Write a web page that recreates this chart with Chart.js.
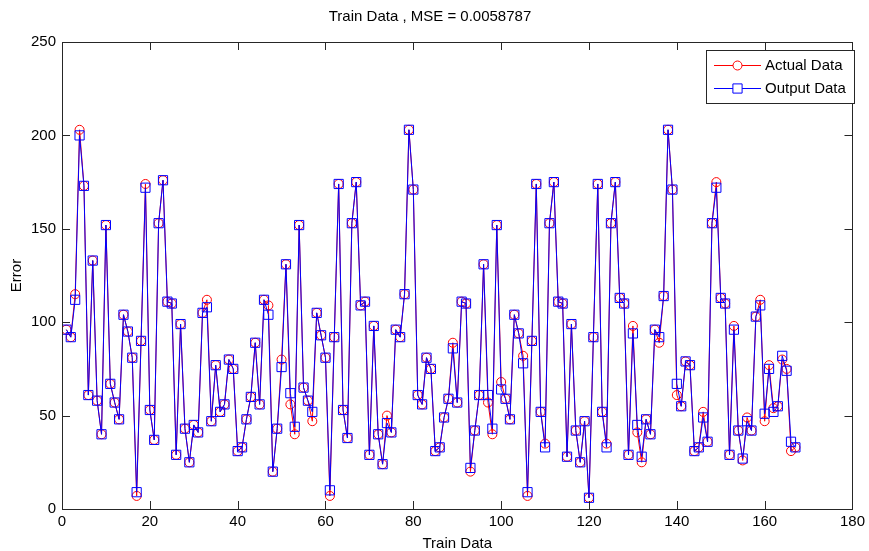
<!DOCTYPE html>
<html>
<head>
<meta charset="utf-8">
<script src="https://cdn.jsdelivr.net/npm/chart.js@4.4.0/dist/chart.umd.min.js"></script>
<style>
  html, body { margin: 0; padding: 0; background: #fff; }
  #wrap { width: 869px; height: 551px; }
</style>
</head>
<body>
<div id="wrap"><canvas id="myChart" width="869" height="551"></canvas></div>
<script>
var actual_data = [
  96, 92, 115, 203, 173, 61, 133, 58, 40, 152,
  67, 57, 48, 104, 95, 81, 7, 90, 174, 53,
  37, 153, 176, 111, 110, 29, 99, 43, 25, 45,
  41, 105, 112, 47, 77, 52, 56, 80, 75, 31,
  33, 48, 60, 89, 56, 112, 109, 20, 43, 80,
  131, 56, 40, 152, 65, 58, 47, 105, 93, 81,
  7, 92, 174, 53, 38, 153, 175, 109, 111, 29,
  98, 40, 24, 50, 41, 96, 92, 115, 203, 171,
  61, 56, 81, 75, 31, 33, 49, 59, 89, 57,
  111, 110, 20, 42, 61, 131, 57, 40, 152, 68,
  59, 48, 104, 94, 82, 7, 90, 174, 52, 35,
  153, 175, 111, 110, 28, 99, 42, 25, 47, 6,
  92, 174, 52, 35, 153, 175, 113, 110, 29, 98,
  41, 25, 48, 40, 96, 89, 114, 203, 171, 61,
  55, 79, 77, 31, 33, 52, 36, 153, 175, 113,
  110, 29, 98, 42, 26, 49, 42, 103, 112, 47,
  77, 54, 55, 80, 75, 31, 33
];
var output_data = [
  96, 92, 112, 200, 173, 61, 133, 58, 40, 152,
  67, 57, 48, 104, 95, 81, 9, 90, 172, 53,
  37, 153, 176, 111, 110, 29, 99, 43, 25, 45,
  41, 105, 108, 47, 77, 52, 56, 80, 75, 31,
  33, 48, 60, 89, 56, 112, 104, 20, 43, 76,
  131, 62, 44, 152, 65, 58, 52, 105, 93, 81,
  10, 92, 174, 53, 38, 153, 175, 109, 111, 29,
  98, 40, 24, 46, 41, 96, 92, 115, 203, 171,
  61, 56, 81, 75, 31, 33, 49, 59, 86, 57,
  111, 110, 22, 42, 61, 131, 61, 43, 152, 64,
  59, 48, 104, 94, 78, 9, 90, 174, 52, 33,
  153, 175, 111, 110, 28, 99, 42, 25, 47, 6,
  92, 174, 52, 33, 153, 175, 113, 110, 29, 94,
  45, 28, 48, 40, 96, 92, 114, 203, 171, 67,
  55, 79, 77, 31, 33, 49, 36, 153, 172, 113,
  110, 29, 96, 42, 27, 47, 42, 103, 109, 51,
  75, 52, 55, 82, 74, 36, 33
];
var x_ticks = [0, 20, 40, 60, 80, 100, 120, 140, 160, 180];
var y_ticks = [0, 50, 100, 150, 200, 250];

var FONT = "'Liberation Sans', Arial, sans-serif";
var FSIZE = 15;

function to_points(list) {
  var pts = [];
  for(var i = 0; i < list.length; i++) {
    pts.push({x: i + 1, y: list[i]});
  }
  return pts;
}

// matlab style box, inward ticks and legend
var matlab_axes = {
  id: 'matlab_axes',
  afterDatasetsDraw: function(chart) {
    var ctx = chart.ctx;
    var a = chart.chartArea;
    var xs = chart.scales.x;
    var ys = chart.scales.y;
    var len = 8;
    ctx.save();
    ctx.strokeStyle = '#262626';
    ctx.lineWidth = 1;
    ctx.beginPath();
    for(const v of x_ticks) {
      var px = Math.round(xs.getPixelForValue(v)) + 0.5;
      ctx.moveTo(px, a.bottom); ctx.lineTo(px, a.bottom - len);
      ctx.moveTo(px, a.top); ctx.lineTo(px, a.top + len);
    }
    for(const v of y_ticks) {
      var py = Math.round(ys.getPixelForValue(v)) + 0.5;
      ctx.moveTo(a.left, py); ctx.lineTo(a.left + len, py);
      ctx.moveTo(a.right, py); ctx.lineTo(a.right - len, py);
    }
    ctx.stroke();
    ctx.strokeRect(Math.round(a.left) + 0.5, Math.round(a.top) + 0.5,
                   Math.round(a.right - a.left), Math.round(a.bottom - a.top));

    // legend
    var bx = 706.5, by = 50.5, bw = 148, bh = 53;
    ctx.fillStyle = '#fff';
    ctx.fillRect(bx, by, bw, bh);
    ctx.strokeStyle = '#262626';
    ctx.strokeRect(bx, by, bw, bh);
    var rows = [65, 88];
    ctx.font = FSIZE + 'px ' + FONT;
    ctx.textBaseline = 'middle';
    ctx.textAlign = 'left';
    chart.data.datasets.forEach(function(ds, i) {
      var y = rows[i] + 0.5;
      ctx.strokeStyle = ds.borderColor;
      ctx.lineWidth = 1;
      ctx.beginPath();
      ctx.moveTo(714, y); ctx.lineTo(761, y);
      ctx.stroke();
      ctx.fillStyle = '#fff';
      Chart.helpers.drawPoint(ctx, {pointStyle: ds.pointStyle, radius: ds.pointRadius, borderWidth: 1}, 737.5, y);
      ctx.fillStyle = '#000';
      ctx.fillText(ds.label, 765, rows[i] + 1);
    });
    ctx.restore();
  }
};

const config = {
  type: 'line',
  data: {
    datasets: [{
      label: 'Actual Data',
      data: to_points(actual_data),
      borderColor: 'rgb(255, 0, 0)',
      backgroundColor: 'rgba(0, 0, 0, 0)',
      borderWidth: 1,
      pointStyle: 'circle',
      pointRadius: 4.5,
      pointBorderWidth: 1,
      pointBorderColor: 'rgb(255, 0, 0)',
      pointBackgroundColor: 'rgba(0, 0, 0, 0)',
      tension: 0,
      order: 2
    }, {
      label: 'Output Data',
      data: to_points(output_data),
      borderColor: 'rgb(0, 0, 255)',
      backgroundColor: 'rgba(0, 0, 0, 0)',
      borderWidth: 1,
      pointStyle: 'rect',
      pointRadius: 6.5,
      pointBorderWidth: 1,
      pointBorderColor: 'rgb(0, 0, 255)',
      pointBackgroundColor: 'rgba(0, 0, 0, 0)',
      tension: 0,
      order: 1
    }]
  },
  options: {
    responsive: false,
    animation: false,
    layout: {padding: {left: 0, right: 9, top: 0, bottom: 0}},
    plugins: {
      legend: {display: false},
      tooltip: {enabled: false},
      title: {
        display: true,
        text: 'Train Data , MSE = 0.0058787',
        color: '#000',
        font: {family: FONT, size: FSIZE, weight: 'normal'},
        padding: {top: 8, bottom: 16}
      }
    },
    scales: {
      x: {
        type: 'linear',
        min: 0, max: 180,
        afterFit: function(s) { s.height = 42; },
        afterBuildTicks: function(s) { s.ticks = x_ticks.map(v => ({value: v})); },
        grid: {display: false, drawTicks: false},
        border: {display: false},
        ticks: {color: '#000', padding: 4, maxRotation: 0, font: {family: FONT, size: FSIZE}},
        title: {display: true, text: 'Train Data', color: '#000', padding: 0,
                font: {family: FONT, size: FSIZE, lineHeight: 1}}
      },
      y: {
        min: 0, max: 250,
        afterFit: function(s) { s.width = 62; },
        afterBuildTicks: function(s) { s.ticks = y_ticks.map(v => ({value: v})); },
        grid: {display: false, drawTicks: false},
        border: {display: false},
        ticks: {color: '#000', padding: 6, font: {family: FONT, size: FSIZE}},
        title: {display: true, text: 'Error', color: '#000', padding: {top: 8, bottom: 0},
                font: {family: FONT, size: FSIZE}}
      }
    }
  },
  plugins: [matlab_axes]
};

var myChart = new Chart(document.getElementById('myChart'), config);
</script>
</body>
</html>
